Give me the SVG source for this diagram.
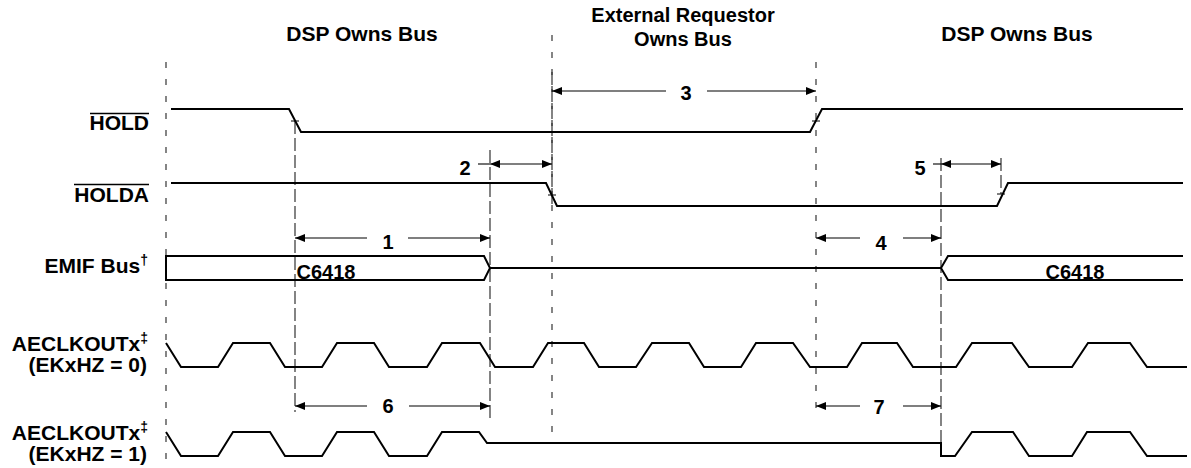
<svg xmlns="http://www.w3.org/2000/svg" width="1191" height="468" viewBox="0 0 1191 468">
<style>
text{font-family:"Liberation Sans",Arial,Helvetica,sans-serif;font-weight:bold;fill:#000}
.lbl{font-size:21px}
.lbl2{font-size:20px}
.sig{font-size:21px;text-anchor:end}
.num{font-size:20px;text-anchor:middle}
.sup{font-size:14px}
.wave{fill:none;stroke:#000;stroke-width:2;stroke-linejoin:miter}
.bnd{stroke:#444;stroke-width:1.3;stroke-dasharray:6 11;fill:none}
.ref{stroke:#333;stroke-width:1.2;stroke-dasharray:13 4;fill:none}
.dim{stroke:#000;stroke-width:1.1;fill:none}
.tick{stroke:#000;stroke-width:1;fill:none}
.ovl{stroke:#000;stroke-width:1.6}
</style>
<defs>
<marker id="ah" viewBox="0 0 10 8" refX="10" refY="4" markerWidth="10" markerHeight="8" markerUnits="userSpaceOnUse" orient="auto-start-reverse">
<path d="M0,0 L10,4 L0,8 Z" fill="#000"/>
</marker>
</defs>
<rect width="1191" height="468" fill="#fff"/>

<g id="phase-labels">
<text class="lbl" x="362" y="41" text-anchor="middle">DSP Owns Bus</text>
<text class="lbl2" x="683" y="22" text-anchor="middle">External Requestor</text>
<text class="lbl2" x="683" y="46" text-anchor="middle">Owns Bus</text>
<text class="lbl" x="1017" y="41" text-anchor="middle">DSP Owns Bus</text>
</g>

<g id="connectors">
<line class="bnd" x1="166" y1="62" x2="166" y2="466"/>
<line class="bnd" x1="552" y1="35" x2="552" y2="440"/>
<line class="bnd" x1="816" y1="62" x2="816" y2="408"/>
<line class="ref" x1="552" y1="72" x2="552" y2="205"/>
<line class="ref" x1="295" y1="121" x2="295" y2="412"/>
<line class="ref" x1="490" y1="150" x2="490" y2="422"/>
<line class="ref" x1="941" y1="158" x2="941" y2="447"/>
<line class="ref" x1="1001" y1="158" x2="1001" y2="194"/>
<!-- 3 -->
<line class="dim" x1="666" y1="91" x2="552" y2="91" marker-end="url(#ah)"/>
<line class="dim" x1="707" y1="91" x2="816" y2="91" marker-end="url(#ah)"/>
<text class="num" x="686" y="100">3</text>
<!-- 2 -->
<line class="dim" x1="478" y1="164" x2="490" y2="164"/>
<line class="dim" x1="490" y1="164" x2="552" y2="164" marker-start="url(#ah)" marker-end="url(#ah)"/>
<text class="num" x="465" y="175">2</text>
<!-- 5 -->
<line class="dim" x1="933" y1="164" x2="941" y2="164"/>
<line class="dim" x1="941" y1="164" x2="1001" y2="164" marker-start="url(#ah)" marker-end="url(#ah)"/>
<text class="num" x="920" y="175">5</text>
<!-- 1 -->
<line class="dim" x1="367" y1="238" x2="295" y2="238" marker-end="url(#ah)"/>
<line class="dim" x1="408" y1="238" x2="490" y2="238" marker-end="url(#ah)"/>
<text class="num" x="388" y="249">1</text>
<!-- 4 -->
<line class="dim" x1="860" y1="238" x2="816" y2="238" marker-end="url(#ah)"/>
<line class="dim" x1="903" y1="238" x2="941" y2="238" marker-end="url(#ah)"/>
<text class="num" x="881" y="250">4</text>
<!-- 6 -->
<line class="dim" x1="367" y1="406" x2="295" y2="406" marker-end="url(#ah)"/>
<line class="dim" x1="409" y1="406" x2="490" y2="406" marker-end="url(#ah)"/>
<text class="num" x="388" y="413">6</text>
<!-- 7 -->
<line class="dim" x1="860" y1="406" x2="816" y2="406" marker-end="url(#ah)"/>
<line class="dim" x1="903" y1="406" x2="941" y2="406" marker-end="url(#ah)"/>
<text class="num" x="879" y="414">7</text>
</g>

<g id="hold">
<text class="sig" x="149" y="130">HOLD</text>
<line class="ovl" x1="90" y1="113.5" x2="149" y2="113.5"/>
<path class="wave" d="M171,109 H289 L301,132 H810 L822,109 H1183"/>
<line class="tick" x1="291" y1="121" x2="299" y2="121"/>
<line class="tick" x1="812" y1="121" x2="820" y2="121"/>
</g>

<g id="holda">
<text class="sig" x="149" y="202">HOLDA</text>
<line class="ovl" x1="74" y1="184.5" x2="149" y2="184.5"/>
<path class="wave" d="M171,183 H546 L557,206 H997 L1008,183 H1183"/>
<line class="tick" x1="548" y1="195" x2="556" y2="195"/>
<line class="tick" x1="997" y1="194" x2="1005" y2="194"/>
</g>

<g id="emif-bus">
<text class="sig" x="148" y="273">EMIF Bus<tspan class="sup" dy="-8">†</tspan></text>
<path class="wave" d="M166,256 H484 L490,268 L484,280 H166 Z"/>
<path class="wave" d="M490,268 H941"/>
<path class="wave" d="M1183,256 H948 L941,268 L948,280 H1183"/>
<text class="num" x="326" y="279">C6418</text>
<text class="num" x="1075" y="279">C6418</text>
</g>

<g id="aeclkout-0">
<text class="sig" x="148" y="351">AECLKOUTx<tspan class="sup" dy="-8">‡</tspan></text>
<text class="sig" x="147" y="372">(EKxHZ = 0)</text>
<path class="wave" d="M166,343 L181,367 H218 L233,343 H270 L285,367 H322 L337,343 H374 L389,367 H427 L442,343 H480 L495,367 H533 L548,343 H584 L599,367 H636 L652,343 H689 L704,367 H741 L756,343 H793 L810,367 H847 L862,343 H897 L913,367 H956 L972,343 H1012 L1029,367 H1072 L1088,343 H1130 L1147,367 H1187"/>
</g>

<g id="aeclkout-1">
<text class="sig" x="148" y="440">AECLKOUTx<tspan class="sup" dy="-8">‡</tspan></text>
<text class="sig" x="147" y="461">(EKxHZ = 1)</text>
<path class="wave" d="M166,432 L181,456 H218 L233,432 H270 L285,456 H322 L337,432 H374 L389,456 H427 L442,432 H479 L487,443 H941 V456 H955 L972,432 H1013 L1029,456 H1072 L1087,432 H1130 L1147,456 H1187"/>
</g>
</svg>
